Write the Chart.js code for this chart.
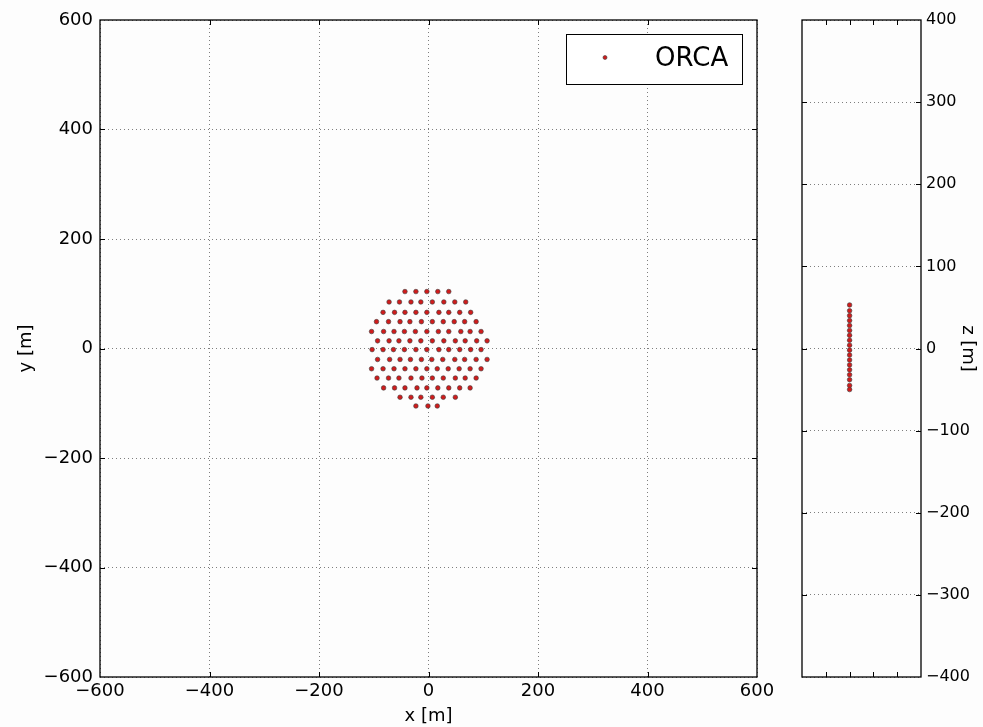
<!DOCTYPE html>
<html>
<head>
<meta charset="utf-8">
<script src="https://cdn.jsdelivr.net/npm/chart.js@4"></script>
<style>
    html, body { margin: 0; padding: 0; background: #fdfdfd; }
    body { width: 983px; height: 727px; position: relative; overflow: hidden; }
    #topView { position: absolute; left: 0; top: 0; }
    #sideView { position: absolute; left: 790px; top: 0; }
</style>
</head>
<body>
<canvas id="topView" width="790" height="727"></canvas>
<canvas id="sideView" width="193" height="727"></canvas>
<script>
// detection unit positions, top view [m]
const duX = [
    -43, -23, -3, 17, 37,
    -72, -53, -32, -14, 7, 28, 48, 68,
    -83, -62, -43, -23, -3, 19, 37, 57, 77,
    -95, -73, -52, -34, -13, 7, 27, 47, 66, 87,
    -104, -82, -63, -44, -24, -3, 18, 37, 59, 76, 96,
    -93, -72, -54, -34, -14, 7, 28, 49, 67, 88, 107,
    -103, -83, -64, -44, -23, -3, 19, 37, 57, 77, 96,
    -93, -71, -52, -33, -13, 6, 26, 48, 66, 87, 107,
    -104, -83, -63, -43, -23, -3, 16, 36, 56, 76, 96,
    -94, -73, -54, -32, -12, 7, 27, 49, 67, 87,
    -82, -62, -43, -21, -3, 17, 37, 57, 76,
    -52, -32, -14, 7, 27, 49,
    -23, -1, 16
];
const duY = [
    104, 104, 104, 104, 104,
    85, 85, 85, 85, 85, 85, 85, 85,
    66, 66, 66, 66, 66, 66, 66, 66, 66,
    49, 49, 49, 49, 49, 49, 49, 49, 49, 49,
    31, 31, 31, 31, 31, 31, 31, 31, 31, 31, 31,
    14, 14, 14, 14, 14, 14, 14, 14, 14, 14, 14,
    -2, -2, -2, -2, -2, -2, -2, -2, -2, -2, -2,
    -20, -20, -20, -20, -20, -20, -20, -20, -20, -20, -20,
    -37, -37, -37, -37, -37, -37, -37, -37, -37, -37, -37,
    -54, -54, -54, -54, -54, -54, -54, -54, -54, -54,
    -72, -72, -72, -72, -72, -72, -72, -72, -72,
    -89, -89, -89, -89, -89, -89,
    -105, -105, -105
];
// optical module heights along one string [m]
const domZ = [53, 46, 40, 34, 28, 22, 16, 10, 4, -2, -8, -14, -20, -26, -32, -38, -45, -50];
const stringX = 0;

const xyTicks = [-600, -400, -200, 0, 200, 400, 600];
const zTicks = [-400, -300, -200, -100, 0, 100, 200, 300, 400];
const seriesName = 'ORCA';

const FONT = 'DejaVu Sans';
const dotFill = '#d01c1c';
const dotEdge = '#3c3c3c';

function minus(v) {
    return String(v).replace('-', '\u2212');
}

// matplotlib style box with inward ticks
const frame = {
    id: 'frame',
    afterDraw(chart) {
        const { ctx, chartArea: a, scales } = chart;
        ctx.save();
        ctx.strokeStyle = '#000';
        ctx.lineWidth = 1;
        ctx.beginPath();
        scales.x.ticks.forEach(t => {
            if (t.value <= scales.x.min || t.value >= scales.x.max) return;
            const px = Math.round(scales.x.getPixelForValue(t.value)) + 0.5;
            ctx.moveTo(px, a.bottom); ctx.lineTo(px, a.bottom - 5);
            ctx.moveTo(px, a.top); ctx.lineTo(px, a.top + 5);
        });
        scales.y.ticks.forEach(t => {
            if (t.value <= scales.y.min || t.value >= scales.y.max) return;
            const py = Math.round(scales.y.getPixelForValue(t.value)) + 0.5;
            ctx.moveTo(a.left, py); ctx.lineTo(a.left + 5, py);
            ctx.moveTo(a.right, py); ctx.lineTo(a.right - 5, py);
        });
        ctx.stroke();
        ctx.lineWidth = 1.3;
        ctx.strokeRect(a.left, a.top, a.width, a.height);
        ctx.restore();
    }
};

const legendBox = {
    id: 'legendBox',
    afterDraw(chart) {
        const ctx = chart.ctx;
        ctx.save();
        ctx.fillStyle = '#fff';
        ctx.fillRect(566.5, 34.5, 176, 50);
        ctx.strokeStyle = '#000';
        ctx.lineWidth = 1;
        ctx.strokeRect(566.5, 34.5, 176, 50);
        ctx.beginPath();
        ctx.arc(605, 57.5, 2, 0, Math.PI * 2);
        ctx.fillStyle = dotFill;
        ctx.fill();
        ctx.strokeStyle = dotEdge;
        ctx.lineWidth = 0.6;
        ctx.stroke();
        ctx.fillStyle = '#000';
        ctx.font = '26px "' + FONT + '"';
        ctx.textBaseline = 'middle';
        ctx.fillText(seriesName, 655, 59);
        ctx.restore();
    }
};

const gridStyle = { color: 'rgba(0,0,0,0.5)', lineWidth: 1, drawTicks: false };
const dashStyle = { display: false, dash: [1, 3] };

new Chart(document.getElementById('topView'), {
    type: 'scatter',
    data: {
        datasets: [{
            label: seriesName,
            data: duX.map((x, i) => ({ x: x, y: duY[i] })),
            backgroundColor: dotFill,
            borderColor: dotEdge,
            borderWidth: 0.6,
            pointRadius: 2.3
        }]
    },
    options: {
        responsive: false,
        animation: false,
        layout: { padding: { left: 0, top: 20, right: 33, bottom: 0 } },
        plugins: { legend: { display: false }, tooltip: { enabled: false } },
        scales: {
            x: {
                min: xyTicks[0], max: xyTicks[xyTicks.length - 1],
                afterBuildTicks: s => { s.ticks = xyTicks.map(v => ({ value: v })); },
                afterFit: s => { s.height = 50; },
                grid: gridStyle,
                border: dashStyle,
                ticks: { color: '#000', font: { family: FONT, size: 18 }, padding: 4, autoSkip: false, maxRotation: 0, callback: minus },
                title: { display: true, text: 'x [m]', color: '#000', font: { family: FONT, size: 18 }, padding: 0 }
            },
            y: {
                min: xyTicks[0], max: xyTicks[xyTicks.length - 1],
                afterBuildTicks: s => { s.ticks = xyTicks.map(v => ({ value: v })); },
                afterFit: s => { s.width = 100; },
                grid: gridStyle,
                border: dashStyle,
                ticks: { color: '#000', font: { family: FONT, size: 18 }, padding: 7, autoSkip: false, callback: minus },
                title: { display: true, text: 'y [m]', color: '#000', font: { family: FONT, size: 18 }, padding: { top: 16, bottom: 0 } }
            }
        }
    },
    plugins: [frame, legendBox]
});

new Chart(document.getElementById('sideView'), {
    type: 'scatter',
    data: {
        datasets: [{
            label: seriesName,
            data: domZ.map(z => ({ x: stringX, y: z })),
            backgroundColor: dotFill,
            borderColor: dotEdge,
            borderWidth: 0.6,
            pointRadius: 2.3
        }]
    },
    options: {
        responsive: false,
        animation: false,
        layout: { padding: { left: 12, top: 20, right: 0, bottom: 50 } },
        plugins: { legend: { display: false }, tooltip: { enabled: false } },
        scales: {
            x: {
                min: -2, max: 3,
                ticks: { display: false, stepSize: 1 },
                grid: { display: false },
                border: { display: false },
                afterFit: s => { s.height = 0; }
            },
            y: {
                position: 'right',
                min: zTicks[0], max: zTicks[zTicks.length - 1],
                afterBuildTicks: s => { s.ticks = zTicks.map(v => ({ value: v })); },
                afterFit: s => { s.width = 62; },
                grid: gridStyle,
                border: dashStyle,
                ticks: { color: '#000', font: { family: FONT, size: 16 }, padding: 5, autoSkip: false, callback: minus },
                title: { display: true, text: 'z [m]', color: '#000', font: { family: FONT, size: 18 }, padding: { top: 5, bottom: 0 } }
            }
        }
    },
    plugins: [frame]
});
</script>
</body>
</html>
